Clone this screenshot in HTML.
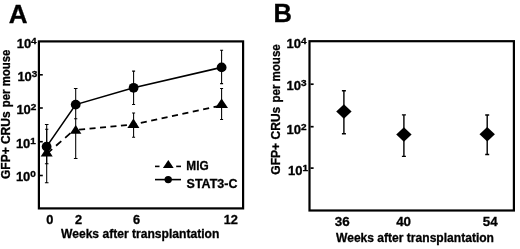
<!DOCTYPE html>
<html><head><meta charset="utf-8">
<style>
html,body{margin:0;padding:0;background:#fff;}
svg{display:block;}
text{font-family:"Liberation Sans",Arial,Helvetica,sans-serif;font-weight:bold;fill:#000;stroke:#000;stroke-width:0.3px;}
.t12{font-size:12.4px;}
</style></head><body>
<svg width="520" height="249" viewBox="0 0 520 249">
<rect width="520" height="249" fill="#fff"/>

<!-- Panel A -->
<text x="8.8" y="22.5" font-size="26">A</text>
<rect x="38.9" y="41.4" width="204.2" height="167" fill="none" stroke="#000" stroke-width="2.2"/>
<g stroke="#000" stroke-width="1.6">
<line x1="40" y1="74.8" x2="42.8" y2="74.8"/>
<line x1="40" y1="108" x2="42.8" y2="108"/>
<line x1="40" y1="141.7" x2="42.8" y2="141.7"/>
<line x1="40" y1="175.5" x2="42.8" y2="175.5"/>
</g>
<g class="t12">
<text x="16.8" y="47.7" font-size="13">10</text><text transform="translate(31.1,43.7) scale(1.14,1)" font-size="8.8">4</text>
<text x="17.4" y="81.2" font-size="13">10</text><text transform="translate(31.7,77.2) scale(1.14,1)" font-size="8.8">3</text>
<text x="16.4" y="114.3" font-size="13">10</text><text transform="translate(30.7,110.3) scale(1.14,1)" font-size="8.8">2</text>
<text x="15.9" y="148.2" font-size="13">10</text><text transform="translate(30.2,144.2) scale(1.14,1)" font-size="8.8">1</text>
<text x="15.9" y="181" font-size="13">10</text><text transform="translate(30.2,177) scale(1.14,1)" font-size="8.8">0</text>
<text transform="translate(10,179) rotate(-90)" font-size="12.4" textLength="67.6" lengthAdjust="spacingAndGlyphs">GFP+ CRUs</text>
<text transform="translate(10,107.2) rotate(-90)" font-size="12.6" textLength="57.5" lengthAdjust="spacingAndGlyphs">per mouse</text>
<text x="49.7" y="223.6" font-size="12.8" text-anchor="middle">0</text>
<text x="78.5" y="223.6" font-size="12.8" text-anchor="middle">2</text>
<text x="136.5" y="223.6" font-size="12.8" text-anchor="middle">6</text>
<text x="230.8" y="223.6" font-size="12.8" text-anchor="middle">12</text>
<text x="61" y="237.5" textLength="158.3" lengthAdjust="spacingAndGlyphs">Weeks after transplantation</text>
</g>

<!-- error bars A -->
<g stroke="#000" stroke-width="1.05" fill="none">
<!-- circle w0 -->
<path d="M46.7 124.4V163.7M44.9 124.4h3.6M44.9 163.7h3.6"/>
<!-- tri w0 -->
<path d="M46.7 129.2V182.7M45.1 129.2h3.2M44.9 182.7h3.6"/>
<!-- w2 -->
<path d="M75.7 88.5V158.5M73.9 88.5h3.6M74.1 118.8h3.2M73.9 158.5h3.6"/>
<!-- w6 -->
<path d="M133.6 71.1V104.5M132.1 71.1h3M132.1 104.5h3"/>
<path d="M133.6 112.9V137.3M132.1 112.9h3M132.1 137.3h3"/>
<!-- w12 -->
<path d="M221.6 50.4V83.6M220.1 50.3h3M220.1 83.6h3"/>
<path d="M221.6 88.5V119.4M220.1 88.5h3M220.1 119.4h3"/>
</g>
<!-- lines -->
<polyline points="46.6,146.6 75.7,104.6 133.6,87.8 221.6,67.4" fill="none" stroke="#000" stroke-width="1.6"/>
<g fill="none" stroke="#000" stroke-width="1.75">
<line x1="46.7" y1="153.9" x2="75.7" y2="128.6" stroke-dasharray="6.97 5.13" stroke-dashoffset="11.8"/>
<line x1="75.7" y1="130" x2="133.6" y2="124.5" stroke-dasharray="6.05 4.45" stroke-dashoffset="7.1"/>
<line x1="133.6" y1="124.4" x2="221.6" y2="105.5" stroke-dasharray="6.12 4.51" stroke-dashoffset="3.27"/>
</g>
<g fill="#000">
<circle cx="46.6" cy="146.6" r="4.9"/>
<circle cx="75.7" cy="104.6" r="4.9"/>
<circle cx="133.6" cy="87.8" r="4.9"/>
<circle cx="221.6" cy="67.4" r="4.9"/>
<path d="M46.7 147.3l6 9.1h-12z"/>
<path d="M75.7 124.9l5.7 8.9h-11.4z"/>
<path d="M133.4 118.6l6 9.4h-12z"/>
<path d="M221.6 98.6l6.4 9.5h-12.8z"/>
</g>
<!-- legend -->
<g stroke="#000" stroke-width="1.6">
<line x1="155" y1="166.4" x2="159.5" y2="166.4"/>
<line x1="176.2" y1="166.4" x2="181" y2="166.4"/>
<line x1="155" y1="179.6" x2="181" y2="179.6"/>
</g>
<path d="M168.3 160.1l5.4 8h-10.8z" fill="#000"/>
<circle cx="168.2" cy="179.6" r="3.7" fill="#000"/>
<text class="t12" x="186.3" y="169.7" textLength="22.3" lengthAdjust="spacingAndGlyphs">MIG</text>
<text class="t12" x="186.6" y="187.8" textLength="50.8" lengthAdjust="spacingAndGlyphs">STAT3-C</text>

<!-- Panel B -->
<text x="273.5" y="22.1" font-size="25.5">B</text>
<rect x="309.5" y="41.2" width="204.4" height="169.3" fill="none" stroke="#000" stroke-width="2.2"/>
<g stroke="#000" stroke-width="1.7">
<line x1="310.5" y1="84.2" x2="313.6" y2="84.2"/>
<line x1="310.5" y1="126.7" x2="313.6" y2="126.7"/>
<line x1="310.5" y1="168.1" x2="313.6" y2="168.1"/>
</g>
<g class="t12">
<text x="286.6" y="48" font-size="13">10</text><text transform="translate(300.9,44) scale(1.14,1)" font-size="8.8">4</text>
<text x="286.6" y="90" font-size="13">10</text><text transform="translate(300.9,86) scale(1.14,1)" font-size="8.8">3</text>
<text x="286.6" y="133.9" font-size="13">10</text><text transform="translate(300.9,129.9) scale(1.14,1)" font-size="8.8">2</text>
<text x="288.1" y="175" font-size="13">10</text><text transform="translate(302.4,171) scale(1.14,1)" font-size="8.8">1</text>
<text transform="translate(279.5,174.7) rotate(-90)" font-size="12.4" textLength="68" lengthAdjust="spacingAndGlyphs">GFP+ CRUs</text>
<text transform="translate(279.5,102.5) rotate(-90)" font-size="12.6" textLength="58.2" lengthAdjust="spacingAndGlyphs">per mouse</text>
<text x="342.3" y="225.9" font-size="13.4" text-anchor="middle">36</text>
<text x="403.6" y="225.9" font-size="13.4" text-anchor="middle">40</text>
<text x="490.3" y="225.9" font-size="13.4" text-anchor="middle">54</text>
<text x="336" y="241.5" textLength="158" lengthAdjust="spacingAndGlyphs">Weeks after transplantation</text>
</g>
<g stroke="#000" stroke-width="1.4" fill="none">
<path d="M343.9 90.8V133.8M341.9 90.8h4M341.9 133.8h4"/>
<path d="M403.9 114.9V156.4M401.9 114.9h4M401.9 156.4h4"/>
<path d="M487.2 115V154.5M485.2 115h4M485.2 154.5h4"/>
</g>
<g fill="#000">
<path d="M343.9 104.2l7.7 7.3l-7.7 7.3l-7.7-7.3z"/>
<path d="M403.9 127.2l7.7 7.3l-7.7 7.3l-7.7-7.3z"/>
<path d="M487.2 127l7.7 7.3l-7.7 7.3l-7.7-7.3z"/>
</g>
</svg>
</body></html>
